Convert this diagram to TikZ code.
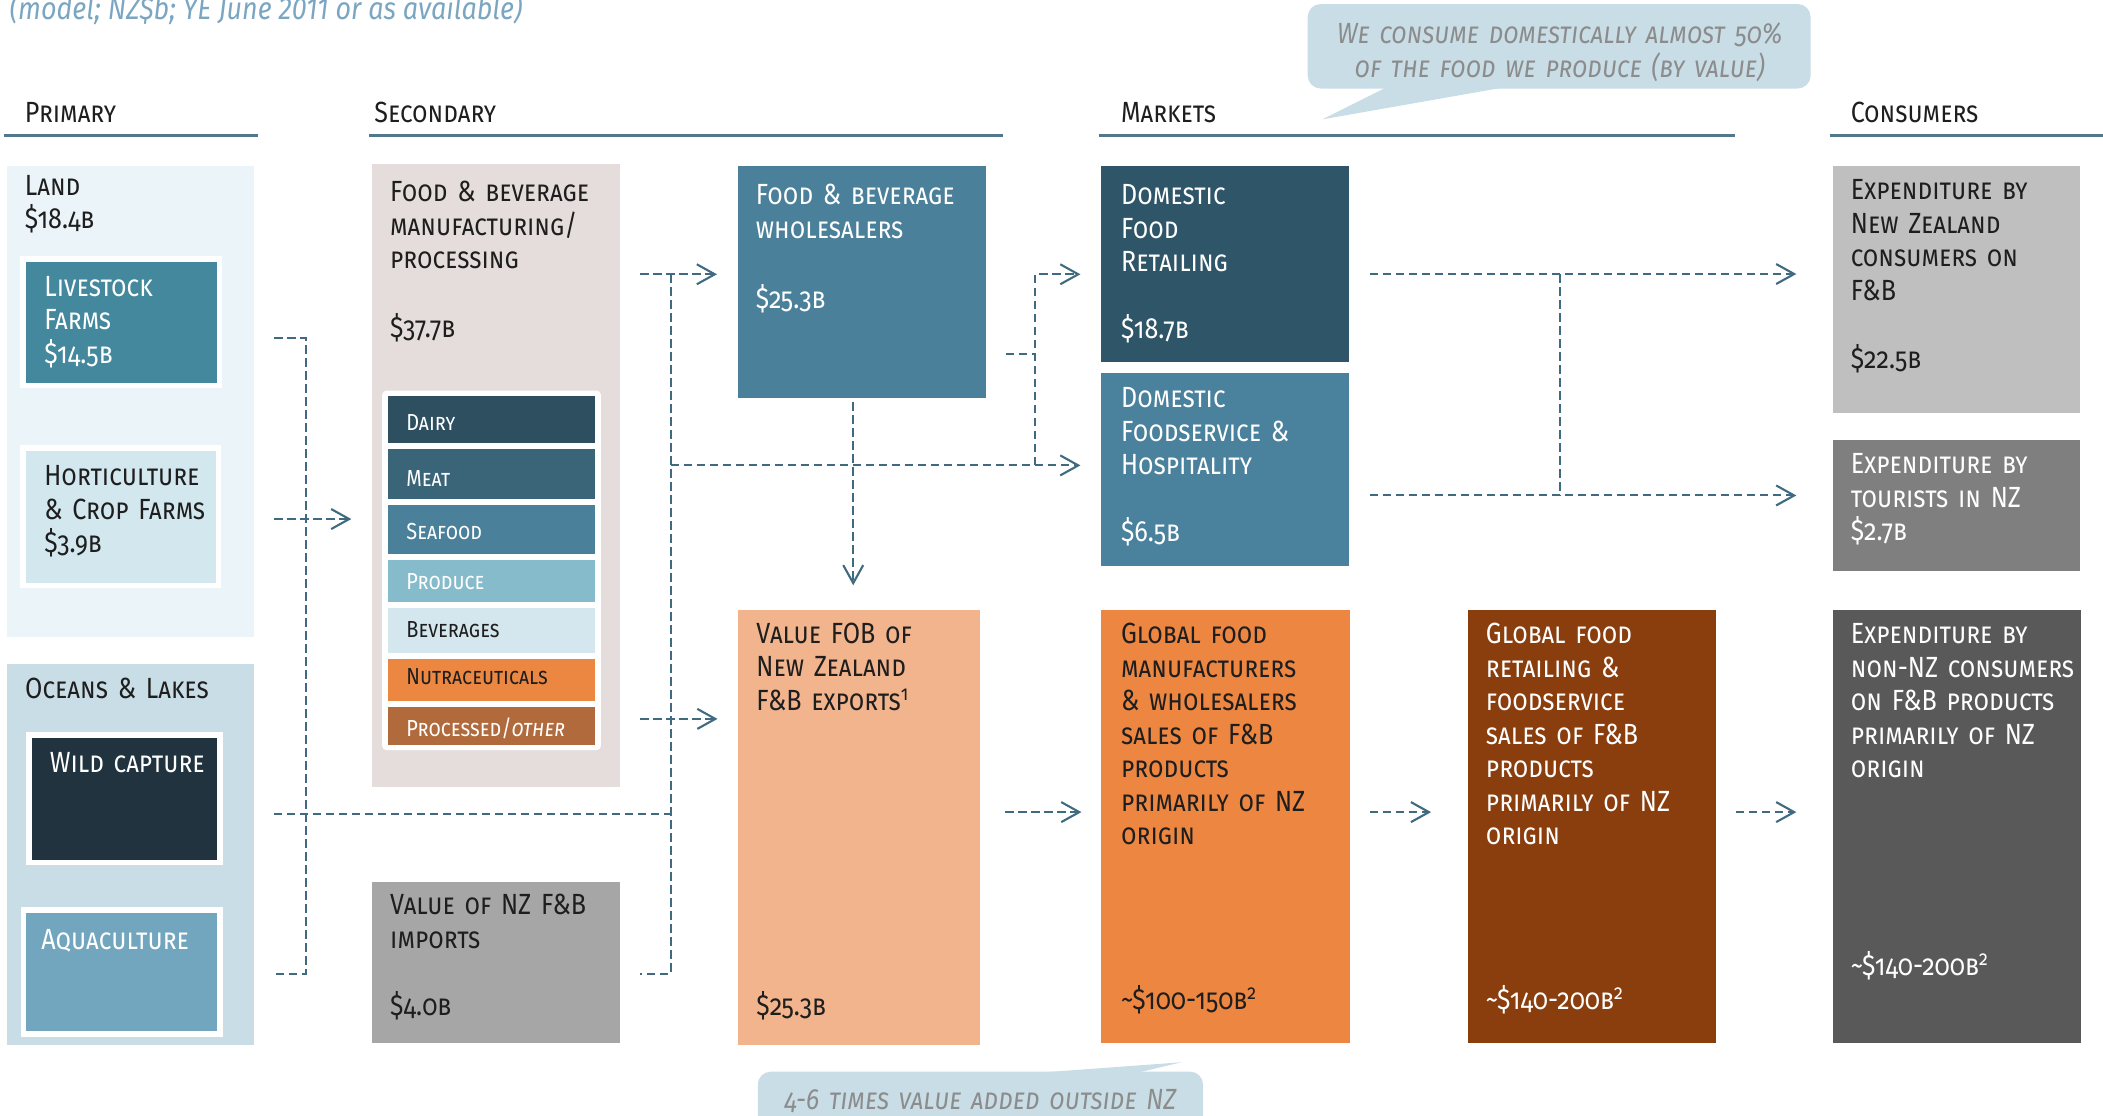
\documentclass[tikz,border=0pt]{standalone}
\usepackage{fontspec}
\setmainfont{Fira Sans}
\newfontfamily\capsfont{Fira Sans}[Letters=SmallCaps, Numbers=OldStyle, FakeStretch=0.86]
\newfontfamily\notefont{Fira Sans}[FakeStretch=0.86]
\usepackage{tikz}
\usetikzlibrary{arrows.meta,fit}

\definecolor{ink}{HTML}{1E1E1E}
\definecolor{landc}{HTML}{EBF4F8}
\definecolor{ocec}{HTML}{C8DDE6}
\definecolor{livec}{HTML}{44889E}
\definecolor{hortc}{HTML}{D3E7EF}
\definecolor{wildc}{HTML}{20333E}
\definecolor{aquac}{HTML}{72A6BE}
\definecolor{mfgc}{HTML}{E5DDDB}
\definecolor{dairyc}{HTML}{2D4F60}
\definecolor{meatc}{HTML}{3A6579}
\definecolor{seac}{HTML}{4A809A}
\definecolor{prodc}{HTML}{86BBCC}
\definecolor{bevc}{HTML}{D4E7EE}
\definecolor{nutrac}{HTML}{EC8742}
\definecolor{procc}{HTML}{B06A3C}
\definecolor{impc}{HTML}{A6A6A6}
\definecolor{wholec}{HTML}{4A8099}
\definecolor{expoc}{HTML}{F2B48C}
\definecolor{retailc}{HTML}{2F5568}
\definecolor{fservc}{HTML}{4A819C}
\definecolor{gmanc}{HTML}{EC8641}
\definecolor{gretc}{HTML}{8A3E0E}
\definecolor{nzcc}{HTML}{BFBFBF}
\definecolor{tourc}{HTML}{7F7F7F}
\definecolor{nonnzc}{HTML}{595959}
\definecolor{bubc}{HTML}{C8DDE6}
\definecolor{remc}{HTML}{8C8C8C}
\definecolor{titc}{HTML}{7AA6C2}
\definecolor{flowc}{HTML}{3F6A80}
\definecolor{rulec}{HTML}{52788C}

\tikzset{
  cell/.style={fill=#1, inner sep=0pt},
  framed/.style={fill=#1, draw=white, line width=0.54mm, inner sep=0pt},
  lbl/.style={font=\capsfont\fontsize{8.3}{9.53}\selectfont, text width=30mm, align=left, anchor=base west, inner sep=0pt, text=ink},
  wlbl/.style={lbl, text=white},
  cat/.style={font=\capsfont\fontsize{6.6}{8}\selectfont, anchor=base west, inner sep=0pt, text=white},
  modelnote/.style={font=\notefont\itshape\fontsize{8.9}{10}\selectfont, anchor=base west, inner sep=0pt, text=titc},
  flow/.style={draw=flowc, line width=0.6pt, dash pattern=on 0.85mm off 0.45mm},
  rule/.style={draw=rulec, line width=0.75pt},
  bubble/.style={fill=bubc, rounded corners=1.3mm, inner sep=0pt},
  remark/.style={font=\capsfont\itshape\fontsize{8.3}{9.53}\selectfont, text=remc, text width=60mm, align=center, anchor=base, inner sep=0pt}
}

\begin{document}
\begin{tikzpicture}[x=0.13412mm, y=-0.13412mm, >={Straight Barb[length=1.8mm,width=2mm]}]
  \useasboundingbox (0,0) rectangle (1568,832);

  \node (title) [modelnote] at (6.7,14.5) {(model; NZ\$b; YE June 2011 or as available)};
  \node (prim) [lbl] at (18,91) {Primary};
  \node (sec) [lbl] at (278.6,91) {Secondary};
  \node (mkt) [lbl] at (835.4,91.6) {Markets};
  \node (cons) [lbl] at (1379.5,91.6) {Consumers};
  \draw[rule] (2.7,101) -- (192,101);
  \draw[rule] (275.4,101) -- (748,101);
  \draw[rule] (819.5,101) -- (1293.3,101);
  \draw[rule] (1364.5,101) -- (1568,101);

  \node (land) [cell=landc, fit={(5,123.5) (189.7,474.7)}] {};
  \node (landt) [lbl] at (18,145.4) {Land\\\$18.4b};
  \node (live) [framed=livec, fit={(17,193.2) (163.8,287.3)}] {};
  \node (livet) [wlbl] at (32.6,221) {Livestock\\Farms\\\$14.5b};
  \node (hort) [framed=hortc, fit={(17,334) (163,436.5)}] {};
  \node (hortt) [lbl] at (32.6,362) {Horticulture\\\& Crop Farms\\\$3.9b};
  \node (oce) [cell=ocec, fit={(5.2,495) (189.4,779)}] {};
  \node (ocet) [lbl] at (18.3,520.6) {Oceans \& Lakes};
  \node (wild) [framed=wildc, fit={(21.5,548) (164,643)}] {};
  \node (wildt) [wlbl] at (36.6,576) {Wild capture};
  \node (aqua) [framed=aquac, fit={(17.5,678.5) (164,771)}] {};
  \node (aquat) [wlbl] at (30.3,708) {Aquaculture};

  \node (mfg) [cell=mfgc, fit={(277.4,122.3) (462.5,586.5)}] {};
  \node (mfgt) [lbl] at (290.4,150.4) {Food \& beverage\\manufacturing/\\processing};
  \node (mfgv) [lbl] at (290.4,251.5) {\$37.7b};
  \node (panel) [cell=white, rounded corners=0.4mm, fit={(285,291.3) (448,559.2)}] {};
  \node (dairy) [cell=dairyc, fit={(289.3,295.3) (443.4,330)}] {};
  \node (dairyt) [cat] at (302.5,321) {Dairy};
  \node (meat) [cell=meatc, fit={(289.3,334.8) (443.4,371.8)}] {};
  \node (meatt) [cat] at (302.5,362.4) {Meat};
  \node (sea) [cell=seac, fit={(289.3,376.5) (443.4,413)}] {};
  \node (seat) [cat] at (302.5,402.6) {Seafood};
  \node (prod) [cell=prodc, fit={(289.3,417.5) (443.4,448.6)}] {};
  \node (prodt) [cat] at (302.5,439.4) {Produce};
  \node (bev) [cell=bevc, fit={(289.3,453) (443.4,486.6)}] {};
  \node (bevt) [cat, text=ink] at (302.5,475.2) {Beverages};
  \node (nutra) [cell=nutrac, fit={(289.3,491) (443.4,522.4)}] {};
  \node (nutrat) [cat, text=ink] at (302.5,510.7) {Nutraceuticals};
  \node (proc) [cell=procc, fit={(289.3,527) (443.4,555.2)}] {};
  \node (proct) [cat] at (302.5,548.8) {Processed/\textit{other}};
  \node (imp) [cell=impc, fit={(277.4,657.4) (462.5,778)}] {};
  \node (impt) [lbl] at (290.4,682.2) {Value of NZ F\&B\\imports};
  \node (impv) [lbl] at (290.4,757.5) {\$4.0b};

  \node (whole) [cell=wholec, fit={(550,124) (735,297)}] {};
  \node (wholet) [wlbl] at (563,152.8) {Food \& beverage\\wholesalers};
  \node (wholev) [wlbl] at (563,230) {\$25.3b};
  \node (expo) [cell=expoc, fit={(550.4,454.8) (731,779)}] {};
  \node (expot) [lbl] at (563.5,479.7) {Value FOB of\\New Zealand\\F\&B exports\textsuperscript{1}};
  \node (expov) [lbl] at (563.5,756.8) {\$25.3b};

  \node (retail) [cell=retailc, fit={(821,123.8) (1006,269.8)}] {};
  \node (retailt) [wlbl] at (835.4,152.8) {Domestic\\Food\\Retailing};
  \node (retailv) [wlbl] at (835.4,252.7) {\$18.7b};
  \node (fserv) [cell=fservc, fit={(821,278.3) (1006,421.7)}] {};
  \node (fservt) [wlbl] at (835.4,303.9) {Domestic\\Foodservice \&\\Hospitality};
  \node (fservv) [wlbl] at (835.4,404.1) {\$6.5b};
  \node (gman) [cell=gmanc, fit={(821,455) (1006.5,778)}] {};
  \node (gmant) [lbl] at (835.4,480) {Global food\\manufacturers\\\& wholesalers\\sales of F\&B\\products\\primarily of NZ\\origin};
  \node (gmanv) [lbl] at (835.4,752.5) {\textasciitilde\$100-150b\textsuperscript{2}};
  \node (gret) [cell=gretc, fit={(1094.4,455) (1279.6,778)}] {};
  \node (grett) [wlbl] at (1107.4,480) {Global food\\retailing \&\\foodservice\\sales of F\&B\\products\\primarily of NZ\\origin};
  \node (gretv) [wlbl] at (1107.4,752.5) {\textasciitilde\$140-200b\textsuperscript{2}};

  \node (nzc) [cell=nzcc, fit={(1366.7,123.8) (1551,308.2)}] {};
  \node (nzct) [lbl] at (1379.5,148.8) {Expenditure by\\New Zealand\\consumers on\\F\&B};
  \node (nzcv) [lbl] at (1379.5,274.6) {\$22.5b};
  \node (tour) [cell=tourc, fit={(1366.7,328) (1551,426)}] {};
  \node (tourt) [wlbl] at (1379.5,353.4) {Expenditure by\\tourists in NZ\\\$2.7b};
  \node (nonnz) [cell=nonnzc, fit={(1366.7,455) (1551.5,778)}] {};
  \node (nonnzt) [wlbl] at (1379.5,480) {Expenditure by\\non-NZ consumers\\on F\&B products\\primarily of NZ\\origin};
  \node (nonnzv) [wlbl] at (1379.5,727.4) {\textasciitilde\$140-200b\textsuperscript{2}};

  \node (tipa) [bubble, fit={(975,3) (1350,66)}] {};
  \fill[bubc] (1036,64) -- (986,89) -- (1128,64) -- cycle;
  \node (tipat) [remark] at (1163,32.5) {We consume domestically almost 50\%\\of the food we produce (by value)};
  \node (tipb) [bubble, fit={(565,799) (897,850)}] {};
  \fill[bubc] (758,801) -- (881,792) -- (843,801) -- cycle;
  \node (tipbt) [remark] at (731,827) {4-6 times value added outside NZ};

  \coordinate (p1) at (228,252);
  \coordinate (p2) at (228,726);
  \coordinate (p3) at (500,607);
  \coordinate (h1) at (228,387);
  \coordinate (s1) at (500,204.5);
  \coordinate (s2) at (500,726);
  \coordinate (s3) at (500,536);
  \coordinate (s4) at (500,347);
  \coordinate (w1) at (772,264);
  \coordinate (w2) at (772,204.5);
  \coordinate (w3) at (772,347);
  \coordinate (c1) at (1163,204.3);
  \coordinate (c2) at (1163,369.4);
  \coordinate (g1) at (1163,605.5);

  \draw[flow, shorten <=1.9mm, shorten >=1.9mm] (land.east |- p1) -- (p1) -- (p2) -- (oce.east |- p2);
  \draw[flow, ->, shorten <=1.9mm, shorten >=2mm] (land.east |- h1) -- (mfg.west |- h1);
  \draw[flow, shorten <=1.9mm] (oce.east |- p3) -- (p3);
  \draw[flow, ->, shorten <=1.9mm, shorten >=2mm] (mfg.east |- s1) -- (whole.west |- s1);
  \draw[flow, shorten >=1.9mm] (s1) -- (s2) -- (imp.east |- s2);
  \draw[flow, ->, shorten <=1.9mm, shorten >=2mm] (mfg.east |- s3) -- (expo.west |- s3);
  \draw[flow, ->, shorten >=2mm] (s4) -- (fserv.west |- s4);
  \draw[flow, ->, shorten <=0.3mm, shorten >=2.4mm] ([xshift=-0.85mm]whole.south) -- ([xshift=-0.85mm]whole.south |- expo.north);
  \draw[flow, shorten <=1.9mm] (whole.east |- w1) -- (w1);
  \draw[flow, ->, shorten >=2mm] (w3) -- (w2) -- (retail.west |- w2);
  \draw[flow, ->, shorten <=2mm, shorten >=3.6mm] (retail.east |- c1) -- (nzc.west |- c1);
  \draw[flow, ->, shorten <=2mm, shorten >=3.6mm] (fserv.east |- c2) -- (tour.west |- c2);
  \draw[flow] (c1) -- (c2);
  \draw[flow, ->, shorten <=2.4mm, shorten >=1.9mm] (expo.east |- g1) -- (gman.west |- g1);
  \draw[flow, ->, shorten <=1.9mm, shorten >=3.6mm] (gman.east |- g1) -- (gret.west |- g1);
  \draw[flow, ->, shorten <=1.9mm, shorten >=3.6mm] (gret.east |- g1) -- (nonnz.west |- g1);
\end{tikzpicture}
\end{document}
